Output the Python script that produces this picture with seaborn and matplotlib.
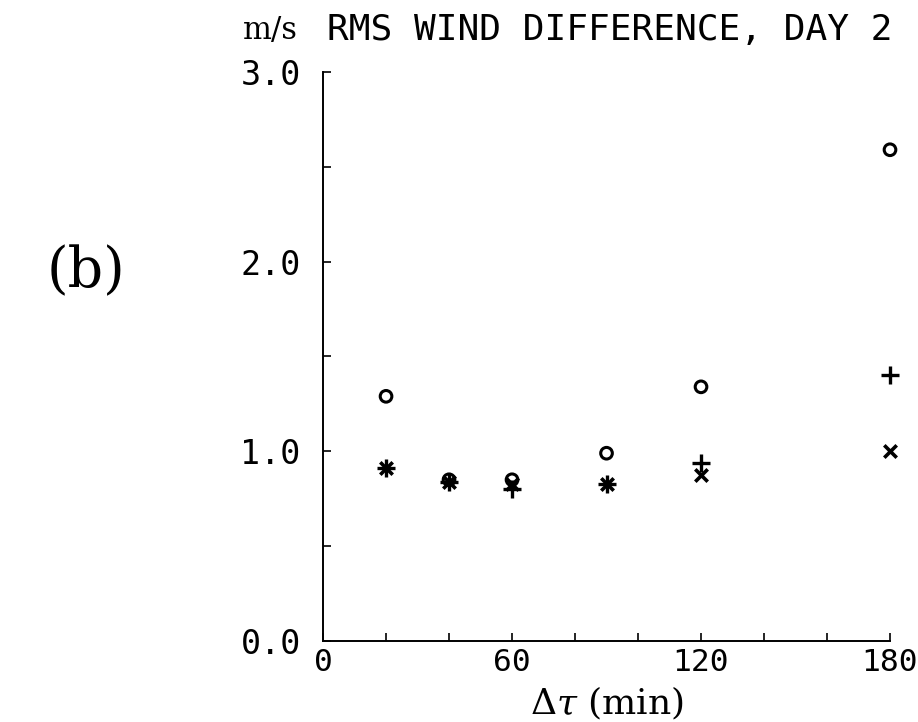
import matplotlib
matplotlib.use('Agg')
import matplotlib.pyplot as plt
import seaborn as sns
import pandas as pd

# data (RMS wind difference, day 2)
tau_min = [20, 40, 60, 90, 120, 180]
rms_circle = [1.29, 0.85, 0.85, 0.99, 1.34, 2.59]
rms_plus = [0.91, 0.84, 0.80, 0.83, 0.94, 1.40]
rms_cross = [0.91, 0.84, 0.83, 0.83, 0.875, 1.00]

x_major = [0, 60, 120, 180]
x_major_labels = ['0', '60', '120', '180']
x_minor = [20, 40, 80, 100, 140, 160]
y_major = [0, 1, 2, 3]
y_major_labels = ['0.0', '1.0', '2.0', '3.0']
y_minor = [0.5, 1.5, 2.5]

sns.set_style('white')
plt.rcParams['mathtext.fontset'] = 'dejavuserif'
plt.rcParams['text.color'] = 'black'

df = pd.DataFrame({'tau': tau_min, 'o': rms_circle, 'plus': rms_plus, 'cross': rms_cross})

fig = plt.figure(figsize=(9.18, 7.22), dpi=100)
ax = fig.add_axes([0.3519, 0.1122, 0.6176, 0.7881])

sns.scatterplot(data=df, x='tau', y='o', marker='o', s=70, facecolor='none',
                edgecolor='black', linewidth=2.2, ax=ax, clip_on=False, zorder=3)
sns.scatterplot(data=df, x='tau', y='plus', marker='+', s=170, color='black',
                linewidth=2.4, ax=ax, clip_on=False, zorder=3)
sns.scatterplot(data=df, x='tau', y='cross', marker='x', s=80, color='black',
                linewidth=2.6, ax=ax, clip_on=False, zorder=3)

ax.set_xlim(0, 180)
ax.set_ylim(0, 3)
ax.set_ylabel('')

sns.despine(ax=ax)
for side in ['left', 'bottom']:
    ax.spines[side].set_linewidth(1.4)
    ax.spines[side].set_color('black')

ax.set_xticks(x_major)
ax.set_xticklabels(x_major_labels, family='DejaVu Sans Mono', fontsize=22.5)
ax.set_xticks(x_minor, minor=True)
ax.set_yticks(y_major)
ax.set_yticklabels(y_major_labels, family='DejaVu Sans Mono', fontsize=24)
ax.set_yticks(y_minor, minor=True)
ax.tick_params(which='both', direction='in', length=6, width=1.2, color='black',
               labelcolor='black', bottom=True, left=True, top=False, right=False)
ax.tick_params(axis='y', which='major', pad=16)
ax.tick_params(axis='x', which='major', pad=5)

ax.set_xlabel(r'$\Delta\tau$ (min)', family='DejaVu Serif', fontsize=26, labelpad=6,
              color='black')

fig.text(243 / 918, 1 - 30 / 722, 'm/s', family='DejaVu Serif', fontsize=22,
         ha='left', va='center', color='black')
fig.text(327 / 918, 1 - 30 / 722, 'RMS WIND DIFFERENCE, DAY 2', family='DejaVu Sans Mono',
         fontsize=26, ha='left', va='center', color='black')
fig.text(86 / 918, 1 - 272 / 722, '(b)', family='DejaVu Serif', fontsize=40,
         ha='center', va='center', color='black')

fig.savefig('out.png', dpi=100)
